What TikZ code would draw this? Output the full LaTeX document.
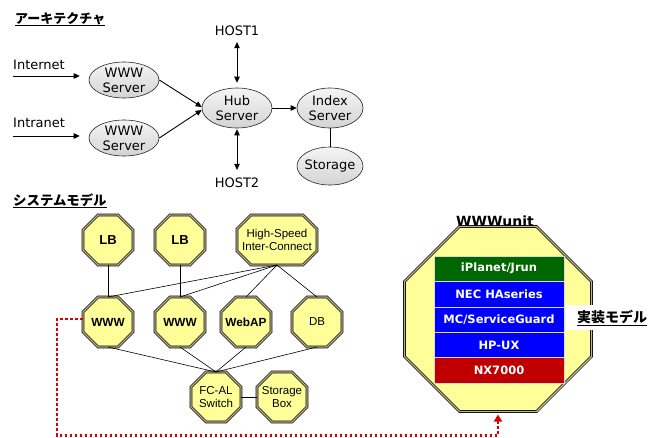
\documentclass[tikz,border=0pt]{standalone}
\usepackage{fontspec}
\setmainfont{DejaVu Sans}
\newfontfamily\arialf{Liberation Sans}
\newfontfamily\jpf{Noto Sans CJK JP}
\usetikzlibrary{shapes.geometric,arrows.meta,calc,backgrounds}
\definecolor{octfill}{HTML}{FFFF99}
\definecolor{octmid}{HTML}{BDB58C}
\definecolor{layergreen}{HTML}{006600}
\definecolor{layerblue}{HTML}{0000FF}
\definecolor{layerred}{HTML}{C00000}
\definecolor{linkred}{HTML}{D80000}
\begin{document}
\begin{tikzpicture}[x=1pt,y=-1pt,
  srv/.style={ellipse, draw=black!85, line width=0.6pt, top color=gray!8, bottom color=gray!34,
    inner sep=-6pt, align=center, font=\fontsize{13}{15}\selectfont},
  plain/.style={font=\fontsize{13}{15}\selectfont, inner sep=2pt},
  flow/.style={line width=0.9pt, -{Triangle[length=6pt,width=5.5pt]}},
  both/.style={line width=0.9pt, {Triangle[length=6pt,width=5.5pt]}-{Triangle[length=6pt,width=5.5pt]}},
  octline/.style={draw=black, line width=0.7pt, double=octmid, double distance=1.4pt, fill=octfill},
  oct/.style 2 args={rectangle, inner sep=0pt, outer sep=0pt,
    minimum width=#1pt, minimum height=#2pt, align=center,
    font=\arialf\fontsize{11.5}{13.5}\selectfont},
  octb/.style 2 args={oct={#1}{#2}, font=\arialf\bfseries\fontsize{11.8}{13.5}\selectfont},
  link/.style={line width=0.6pt, black},
  title/.style={font=\jpf\bfseries\fontsize{13}{15}\selectfont, inner xsep=0pt, inner ysep=1pt},
  uline/.style={line width=0.8pt, black},
  layer/.style={rectangle, draw=white!85!black, line width=0.6pt, fill=#1, text=white,
    minimum width=130pt, minimum height=25.4pt, inner sep=0pt,
    font=\bfseries\fontsize{11.5}{13}\selectfont},
  reddot/.style={draw=linkred, line width=2.7pt, dash pattern=on 2.7pt off 2.3pt}
]
\useasboundingbox (0,0) rectangle (659,437);
\begin{pgfonlayer}{background}
  \fill[white] (0,0) rectangle (659,437);
\end{pgfonlayer}

% ---- section titles ----
\node[title, anchor=west] (t1) at (15,18.5) {アーキテクチャ};
\draw[uline] (t1.south west) -- (t1.south east);
\node[title, anchor=west, font=\jpf\bfseries\fontsize{13.4}{15}\selectfont] (t2) at (13,200) {システムモデル};
\draw[uline] (t2.south west) -- (t2.south east);

% ---- architecture ----
\node[plain, anchor=base west] (inet) at (11,69.3) {Internet};
\node[plain, anchor=base west] (intra) at (11,127.5) {Intranet};
\coordinate (inS) at (13,76);
\coordinate (itS) at (13,136);

\node[srv, minimum width=70pt, minimum height=36pt] (w1) at (124,80) {WWW\\Server};
\node[srv, minimum width=70pt, minimum height=36pt] (w2) at (124,138) {WWW\\Server};
\node[srv, minimum width=70pt, minimum height=40pt] (hub) at (237,108) {Hub\\Server};
\node[srv, minimum width=66pt, minimum height=40pt] (idx) at (330,108) {Index\\Server};
\node[srv, minimum width=66pt, minimum height=38pt] (stor) at (330,166) {Storage};
\node[plain] (host1) at (237,31) {HOST1};
\node[plain] (host2) at (237,183) {HOST2};

\draw[flow, shorten >=9pt] (inS) -- (inS -| w1.west);
\draw[flow, shorten >=9pt] (itS) -- (itS -| w2.west);
\draw[flow] (w1.east) -- ([yshift=1pt]hub.west);
\draw[flow] (w2.east) -- ([yshift=-2pt]hub.west);
\draw[both, shorten <=4pt, shorten >=5pt] (host1.south) -- (hub.north);
\draw[both, shorten <=1pt, shorten >=6pt] (hub.south) -- (host2.north);
\draw[flow] (hub.east) -- (idx.west);
\draw[link] (idx.south) -- (stor.north);

% ---- system model ----
\node[octb={50}{50}, font=\arialf\bfseries\fontsize{13}{15}\selectfont] (lb1) at (108,240) {LB};
\node[octb={50}{50}, font=\arialf\bfseries\fontsize{13}{15}\selectfont] (lb2) at (180,240) {LB};
\node[oct={80}{50}] (hsic) at (277,240) {High-Speed\\Inter-Connect};
\node[octb={50}{50}] (www1) at (108,322) {WWW};
\node[octb={50}{50}] (www2) at (180,322) {WWW};
\node[octb={50}{50}] (webap) at (246,322) {WebAP};
\node[oct={50}{50}] (db) at (317,322) {DB};
\node[oct={50}{50}] (fcal) at (216,397) {FC-AL\\Switch};
\node[oct={50}{50}] (sbox) at (282,397) {Storage\\Box};

% ---- implementation unit ----
\node[oct={187}{185}] (unit) at (498,319) {};
\node[font=\bfseries\fontsize{14}{16}\selectfont, inner sep=1pt] (unitlbl) at (495,221) {WWWunit};

% octagon bodies, drawn behind the node texts: name/width/height/chamfer
\begin{pgfonlayer}{background}
\foreach \n/\w/\h/\c in {lb1/50/50/15, lb2/50/50/15, hsic/80/50/14, www1/50/50/15,
    www2/50/50/15, webap/50/50/15, db/50/50/15, fcal/50/50/15, sbox/50/50/15, unit/187/185/55} {
  \filldraw[octline, shift={(\n.center)}]
    ({-\w/2+\c},{\h/2}) -- ({\w/2-\c},{\h/2}) -- ({\w/2},{\h/2-\c}) -- ({\w/2},{-\h/2+\c})
    -- ({\w/2-\c},{-\h/2}) -- ({-\w/2+\c},{-\h/2}) -- ({-\w/2},{-\h/2+\c}) -- ({-\w/2},{\h/2-\c}) -- cycle;
}
\end{pgfonlayer}

\draw[link] (lb1.south) -- (www1.north);
\draw[link] (lb2.south) -- (www2.north);
\foreach \n in {www1,www2,webap,db} {
  \draw[link] (hsic.south) -- (\n.north);
  \draw[link] (\n.south) -- (fcal.north);
}
\draw[link] (fcal.east) -- (sbox.west);

\node[layer=layergreen] (l1) at (499,268.7) {iPlanet/Jrun};
\node[layer=layerblue]  (l2) at (499,294.1) {NEC HAseries};
\node[layer=layerblue]  (l3) at (499,319.5) {MC/ServiceGuard};
\node[layer=layerblue]  (l4) at (499,344.9) {HP-UX};
\node[layer=layerred]   (l5) at (499,370.3) {NX7000};

\node[fill=white, minimum width=93pt, minimum height=25pt, inner sep=0pt] (implbox) at (612.5,317.5) {};
\node[title, font=\jpf\bfseries\fontsize{14}{16}\selectfont] (impl) at (612,317.5) {実装モデル};
\draw[uline] (impl.south west) -- (impl.south east);

% ---- link from system model to unit ----
\draw[reddot, -{Triangle[length=7pt,width=8pt]}, shorten >=3pt]
  ([yshift=3pt]www1.west) -- ++(-26,0) |- ([yshift=-24pt]unit.south) -- (unit.south);
\end{tikzpicture}
\end{document}
